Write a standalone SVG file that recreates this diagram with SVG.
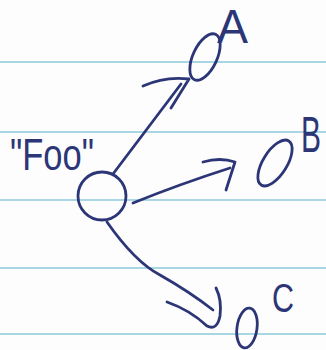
<svg xmlns="http://www.w3.org/2000/svg" width="326" height="350" viewBox="0 0 326 350">
<style>
.rule{stroke:#8cc8da;stroke-width:1.6;fill:none}
.ink{stroke:#2c3677;stroke-width:2.8;fill:none;stroke-linecap:round;stroke-linejoin:round}
.lbl{font-family:"Liberation Sans",Arial,sans-serif;fill:#2c3677}
</style>
<rect width="326" height="350" fill="#fdfdfd"/>
<g id="paper-lines">
<line class="rule" x1="0" y1="62" x2="326" y2="62"/>
<line class="rule" x1="0" y1="132" x2="326" y2="132"/>
<line class="rule" x1="0" y1="200" x2="326" y2="200"/>
<line class="rule" x1="0" y1="268" x2="326" y2="268"/>
<line class="rule" x1="0" y1="334" x2="326" y2="334"/>
</g>
<g id="connectors">
<path class="ink" d="M113,174 Q148,128 181,84"/>
<path class="ink" d="M143,86 Q165,76 189,79 L171,108"/>
<path class="ink" d="M133,203 Q180,184 230,168"/>
<path class="ink" d="M203,162 Q220,157 235,162 L226,190"/>
<path class="ink" d="M107,222 Q135,262 160,275 Q190,292 213,310"/>
<path class="ink" d="M167,302 Q190,310 207,326 Q217,331 220,316 Q222,300 216,288"/>
</g>
<g id="node-foo">
<ellipse class="ink" cx="102" cy="196" rx="24" ry="24"/>
<text class="lbl" x="10" y="170" font-size="44" textLength="84" lengthAdjust="spacingAndGlyphs">"Foo"</text>
</g>
<g id="node-a">
<ellipse class="ink" cx="205" cy="57" rx="12" ry="25" transform="rotate(25 205 57)"/>
<text class="lbl" x="217" y="43" font-size="48" textLength="31" lengthAdjust="spacingAndGlyphs">A</text>
</g>
<g id="node-b">
<ellipse class="ink" cx="275" cy="163" rx="12" ry="26" transform="rotate(32 275 163)"/>
<text class="lbl" font-size="50" transform="translate(301,152) scale(0.6,1)">B</text>
</g>
<g id="node-c">
<ellipse class="ink" cx="247" cy="328" rx="10" ry="20" transform="rotate(8 247 328)"/>
<text class="lbl" x="272" y="312" font-size="40" textLength="22" lengthAdjust="spacingAndGlyphs">C</text>
</g>
</svg>
